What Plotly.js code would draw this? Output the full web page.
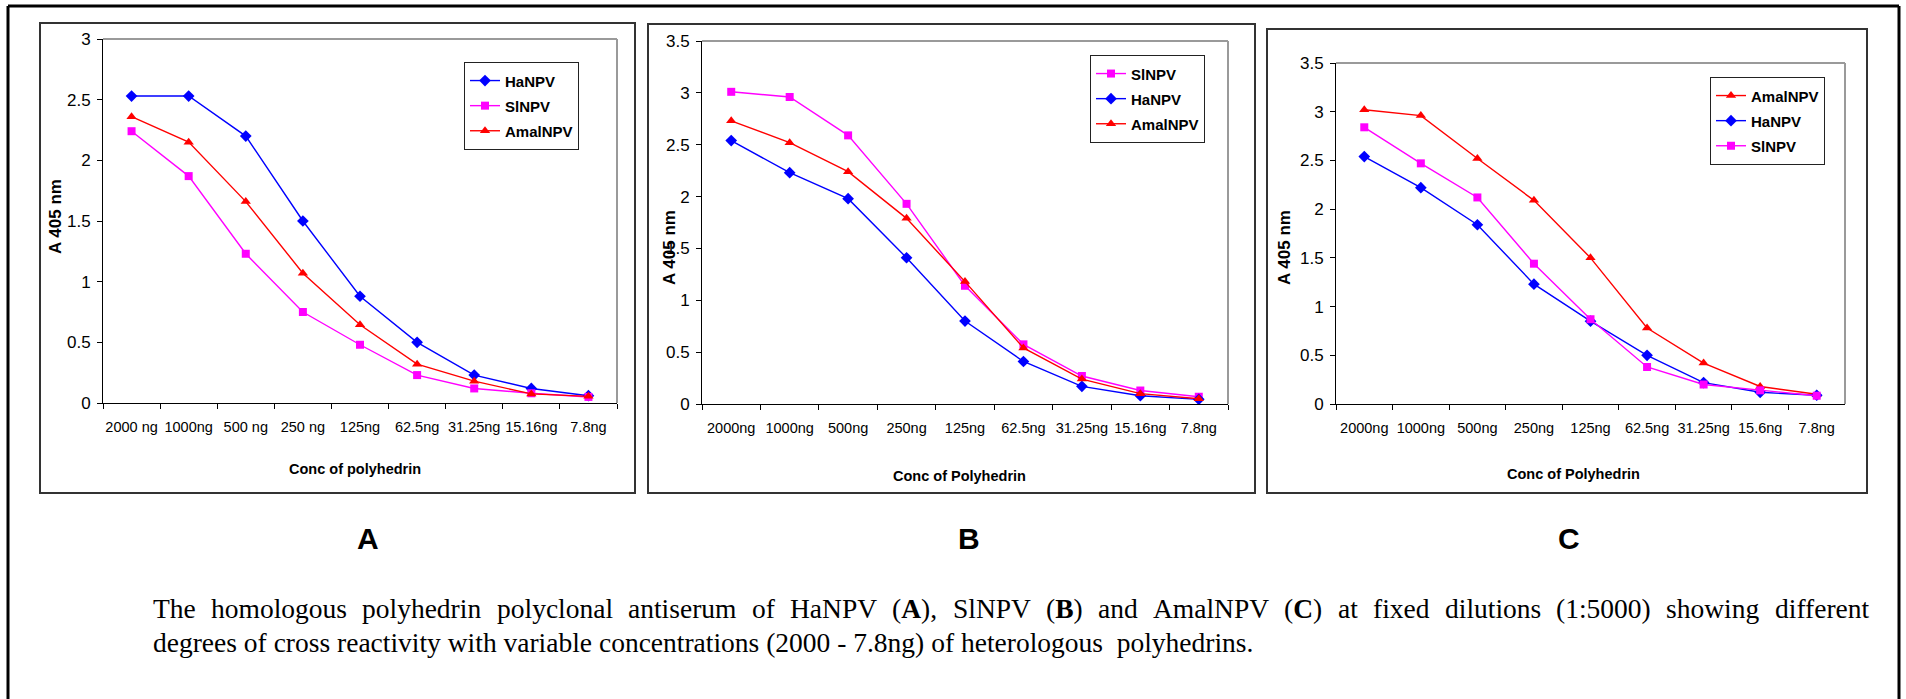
<!DOCTYPE html>
<html>
<head>
<meta charset="utf-8">
<script src="https://cdn.plot.ly/plotly-3.0.1.min.js"></script>
<style>
html,body{margin:0;padding:0;background:#fff;}
#chart{width:1906px;height:699px;}
</style>
</head>
<body>
<div id="chart"></div>
<script>
// ---------------- DATA ----------------
const catsA = ["2000 ng","1000ng","500 ng","250 ng","125ng","62.5ng","31.25ng","15.16ng","7.8ng"];
const catsB = ["2000ng","1000ng","500ng","250ng","125ng","62.5ng","31.25ng","15.16ng","7.8ng"];
const catsC = ["2000ng","1000ng","500ng","250ng","125ng","62.5ng","31.25ng","15.6ng","7.8ng"];

const haA = [2.53, 2.53, 2.20, 1.50, 0.88, 0.50, 0.23, 0.12, 0.06];
const slA = [2.24, 1.87, 1.23, 0.75, 0.48, 0.23, 0.12, 0.08, 0.05];
const amA = [2.36, 2.15, 1.66, 1.07, 0.645, 0.32, 0.18, 0.075, 0.055];

const slB = [3.01, 2.96, 2.59, 1.93, 1.14, 0.575, 0.27, 0.13, 0.07];
const haB = [2.54, 2.23, 1.98, 1.41, 0.80, 0.41, 0.17, 0.08, 0.045];
const amB = [2.73, 2.52, 2.24, 1.79, 1.18, 0.54, 0.24, 0.10, 0.05];

const amC = [3.02, 2.96, 2.52, 2.09, 1.50, 0.78, 0.42, 0.18, 0.10];
const haC = [2.54, 2.22, 1.84, 1.23, 0.85, 0.50, 0.22, 0.12, 0.09];
const slC = [2.84, 2.47, 2.12, 1.44, 0.87, 0.38, 0.20, 0.14, 0.085];

const yTitle = "A 405 nm";
const xTitleA = "Conc of polyhedrin";
const xTitleBC = "Conc of Polyhedrin";
const panelLabels = ["A","B","C"];
const captionLine1 = ["The","homologous","polyhedrin","polyclonal","antiserum","of","HaNPV","(<b>A</b>),","SlNPV","(<b>B</b>)","and","AmalNPV","(<b>C</b>)","at","fixed","dilutions","(1:5000)","showing","different"];
const captionLine2 = "degrees of cross reactivity with variable concentrations (2000 - 7.8ng) of heterologous  polyhedrins.";

// ---------------- STYLE ----------------
const W = 1906, H = 699;
const px = x => x / W;
const py = y => 1 - y / H;
const SANS = '"Liberation Sans", Arial, sans-serif';
const SERIF = '"Liberation Serif", "Times New Roman", serif';

const S = {
  Ha: {name:"HaNPV", color:"#0000FF", symbol:"diamond", size:9},
  Sl: {name:"SlNPV", color:"#FF00FF", symbol:"square", size:8},
  Am: {name:"AmalNPV", color:"#FF0000", symbol:"triangle-up", size:9}
};

function tr(key, cats, vals, xa, ya, leg) {
  const s = S[key];
  return {
    type: "scatter", mode: "lines+markers",
    name: '<span style="font-size:15px">' + s.name + '</span>',
    x: cats, y: vals, xaxis: xa, yaxis: ya, legend: leg,
    line: {color: s.color, width: 1.4},
    marker: {color: s.color, symbol: s.symbol, size: s.size, line:{width:0}}
  };
}

const traces = [
  tr("Ha", catsA, haA, "x", "y", "legend"),
  tr("Sl", catsA, slA, "x", "y", "legend"),
  tr("Am", catsA, amA, "x", "y", "legend"),
  tr("Sl", catsB, slB, "x2", "y2", "legend2"),
  tr("Ha", catsB, haB, "x2", "y2", "legend2"),
  tr("Am", catsB, amB, "x2", "y2", "legend2"),
  tr("Am", catsC, amC, "x3", "y3", "legend3"),
  tr("Ha", catsC, haC, "x3", "y3", "legend3"),
  tr("Sl", catsC, slC, "x3", "y3", "legend3")
];

function xax(left, right, anchor) {
  return {
    domain: [px(left), px(right)], anchor: anchor, type: "category",
    range: [-0.5, 8.5], showgrid: false, zeroline: false,
    showline: true, linecolor: "#000", linewidth: 1,
    ticks: "outside", tickson: "boundaries", ticklen: 5, tickcolor: "#000", tickwidth: 1,
    tickangle: 0,
    tickfont: {family: SANS, size: 14.5, color: "#000"},
    ticklabelstandoff: 11, fixedrange: true
  };
}
function yax(top, bottom, anchor, maxv) {
  return {
    domain: [py(bottom), py(top)], anchor: anchor, range: [0, maxv],
    dtick: 0.5, tick0: 0, showgrid: false, zeroline: false,
    showline: true, linecolor: "#000", linewidth: 1,
    ticks: "outside", ticklen: 5, tickcolor: "#000", tickwidth: 1,
    tickfont: {family: SANS, size: 17, color: "#000"},
    ticklabelstandoff: 3, fixedrange: true
  };
}

function legendCfg(left, top) {
  return {
    x: px(left), y: py(top), xanchor: "left", yanchor: "top",
    bgcolor: "#fff", bordercolor: "#222", borderwidth: 1,
    font: {family: SANS, size: 17, color: "#000", weight: "bold"},
    itemwidth: 30, tracegroupgap: 0, traceorder: "normal"
  };
}

const shapes = [];
// outer border (top, left, right)
shapes.push({type:"line", xref:"paper", yref:"paper", x0:px(8), x1:px(1899), y0:py(6), y1:py(6), line:{color:"#000", width:3}});
shapes.push({type:"line", xref:"paper", yref:"paper", x0:px(8), x1:px(8), y0:py(6), y1:py(705), line:{color:"#000", width:3}});
shapes.push({type:"line", xref:"paper", yref:"paper", x0:px(1899), x1:px(1899), y0:py(6), y1:py(705), line:{color:"#000", width:3}});
// panel frames
[[40,23,635,493],[648,24,1255,493],[1267,29,1867,493]].forEach(r => {
  shapes.push({type:"rect", xref:"paper", yref:"paper", x0:px(r[0]), x1:px(r[2]), y0:py(r[3]), y1:py(r[1]), line:{color:"#333", width:2}, fillcolor:"rgba(0,0,0,0)"});
});
// grey plot-area border (top & right)
["", "2", "3"].forEach(k => {
  shapes.push({type:"line", xref:"x"+k+" domain", yref:"y"+k+" domain", x0:0, x1:1, y0:1, y1:1, line:{color:"#9a9a9a", width:2}});
  shapes.push({type:"line", xref:"x"+k+" domain", yref:"y"+k+" domain", x0:1, x1:1, y0:0, y1:1, line:{color:"#9a9a9a", width:2}});
});

const annotations = [];
function ann(text, x, y, opts) {
  annotations.push(Object.assign({
    text: text, xref:"paper", yref:"paper", x: px(x), y: py(y),
    showarrow:false, xanchor:"center", yanchor:"middle", borderpad:0
  }, opts || {}));
}
// y-axis titles
[[55,217],[669,248],[1284,248]].forEach(p => ann(yTitle, p[0], p[1], {textangle:-90, font:{family:SANS, size:17, color:"#000", weight:"bold"}}));
// x-axis titles
const XT = {family:SANS, size:14.5, color:"#000", weight:"bold"};
ann(xTitleA, 355, 469, {font:XT});
ann(xTitleBC, 960, 476, {font:XT});
ann(xTitleBC, 1573, 474, {font:XT});
// panel labels
[[368,538],[969,538],[1569,538]].forEach((p,i) => ann(panelLabels[i], p[0], p[1], {font:{family:SANS, size:30, color:"#000", weight:"bold"}}));

// caption: line 1 justified between left and right margins
const CAP_SIZE = 27.5;
const cv = document.createElement("canvas").getContext("2d");
function measure(word) {
  let w = 0;
  const parts = word.split(/(<b>.*?<\/b>)/);
  parts.forEach(p => {
    if (!p) return;
    const bold = p.startsWith("<b>");
    const t = p.replace(/<\/?b>/g, "");
    cv.font = (bold ? "bold " : "") + CAP_SIZE + 'px "Liberation Serif"';
    w += cv.measureText(t).width;
  });
  return w;
}
const L1_LEFT = 152, L1_RIGHT = 1868;
const widths = captionLine1.map(measure);
const total = widths.reduce((a,b)=>a+b, 0);
const gap = (L1_RIGHT - L1_LEFT - total) / (captionLine1.length - 1);
let cx = L1_LEFT;
captionLine1.forEach((wd, i) => {
  ann(wd, cx, 608, {xanchor:"left", font:{family:SERIF, size:CAP_SIZE, color:"#000"}});
  cx += widths[i] + gap;
});
ann(captionLine2, 152, 642, {xanchor:"left", font:{family:SERIF, size:CAP_SIZE, color:"#000"}});

const layout = {
  width: W, height: H, margin: {l:0, r:0, t:0, b:0, pad:0},
  paper_bgcolor: "#fff", plot_bgcolor: "#fff",
  showlegend: true,
  xaxis: xax(103, 617, "y"), yaxis: yax(39, 403, "x", 3),
  xaxis2: xax(702, 1228, "y2"), yaxis2: yax(41, 404, "x2", 3.5),
  xaxis3: xax(1336, 1845, "y3"), yaxis3: yax(63, 404, "x3", 3.5),
  legend: legendCfg(464, 62),
  legend2: legendCfg(1090, 55),
  legend3: legendCfg(1710, 77),
  shapes: shapes, annotations: annotations
};

Plotly.newPlot("chart", traces, layout, {staticPlot: true, displayModeBar: false});
</script>
</body>
</html>
